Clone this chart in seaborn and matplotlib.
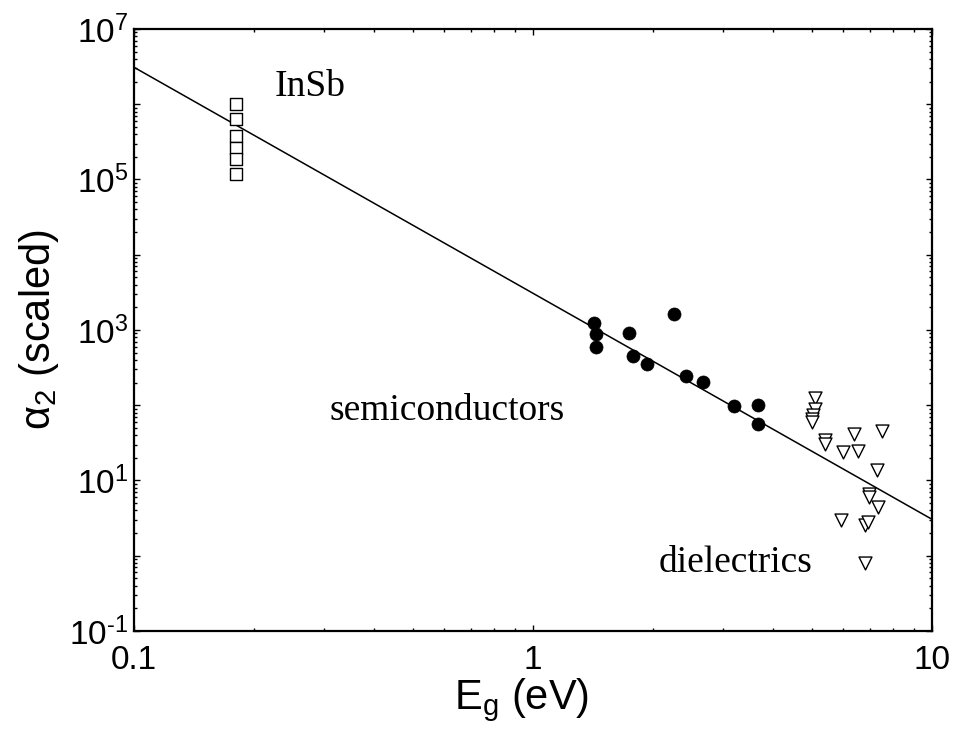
import numpy as np
import pandas as pd
import matplotlib
matplotlib.use("Agg")
import matplotlib.pyplot as plt
import matplotlib.ticker as mticker
import seaborn as sns

# ---- data ----
insb_eg = [0.18, 0.18, 0.18, 0.18, 0.18, 0.18]
insb_a2 = [1.0e6, 6.3e5, 3.8e5, 2.6e5, 1.85e5, 1.2e5]

semi_eg = [1.42, 1.44, 1.44, 1.74, 1.78, 1.93, 2.26, 2.42, 2.67, 3.19, 3.66, 3.66]
semi_a2 = [1250, 885, 588, 903, 454, 352, 1620, 244, 203, 97, 100, 57]

diel_eg = [5.09, 5.09, 5.02, 5.0, 5.0, 5.39, 5.39, 5.97, 6.39, 6.51, 7.48, 7.30,
           6.95, 6.95, 7.33, 5.90, 6.79, 6.93, 6.79]
diel_a2 = [123, 90, 73.6, 66.5, 60, 34, 30.8, 23.8, 41.9, 25, 46, 13.6,
           6.6, 6.1, 4.4, 3.0, 2.6, 2.8, 0.81]

fit_eg = [0.1, 10.0]
fit_a2 = [3.1e6, 3.05]

x_ticks = [0.1, 1, 10]
x_ticklabels = ["0.1", "1", "10"]
y_ticks = [1e-1, 1e0, 1e1, 1e2, 1e3, 1e4, 1e5, 1e6, 1e7]
y_ticklabels = [r"$10^{\text{-}1}$", "", r"$10^{1}$", "", r"$10^{3}$", "", r"$10^{5}$", "", r"$10^{7}$"]

# ---- style ----
sns.set_style("ticks")
plt.rcParams["font.family"] = ["Liberation Sans", "DejaVu Sans"]
plt.rcParams["mathtext.fontset"] = "custom"
plt.rcParams["mathtext.rm"] = "Liberation Sans"
plt.rcParams["mathtext.it"] = "Liberation Sans"
plt.rcParams["mathtext.default"] = "rm"
for k in ["text.color", "axes.labelcolor", "xtick.color", "ytick.color", "axes.edgecolor"]:
    plt.rcParams[k] = "black"

fig = plt.figure(figsize=(9.55, 7.32), dpi=100)
ax = fig.add_axes([0.1403, 0.138, 0.8356, 0.8224])

df_fit = pd.DataFrame({"Eg": fit_eg, "a2": fit_a2})
df_insb = pd.DataFrame({"Eg": insb_eg, "a2": insb_a2})
df_semi = pd.DataFrame({"Eg": semi_eg, "a2": semi_a2})
df_diel = pd.DataFrame({"Eg": diel_eg, "a2": diel_a2})

sns.lineplot(data=df_fit, x="Eg", y="a2", ax=ax, color="black", linewidth=1.1)
sns.scatterplot(data=df_insb, x="Eg", y="a2", ax=ax, marker="s", s=8.6**2,
                facecolor="white", edgecolor="black", linewidth=1.0, zorder=3)
sns.scatterplot(data=df_semi, x="Eg", y="a2", ax=ax, marker="o", s=9.4**2,
                color="black", edgecolor="black", linewidth=0.5, zorder=3)
sns.scatterplot(data=df_diel, x="Eg", y="a2", ax=ax, marker="v", s=9.3**2,
                facecolor="white", edgecolor="black", linewidth=1.0, zorder=3)

ax.set_xscale("log")
ax.set_yscale("log")
ax.set_xlim(0.1, 10)
ax.set_ylim(1e-1, 1e7)

ax.set_xticks(x_ticks)
ax.set_xticklabels(x_ticklabels)
ax.set_yticks(y_ticks)
ax.set_yticklabels(y_ticklabels)
ax.xaxis.set_minor_locator(mticker.LogLocator(base=10, subs=np.arange(2, 10)))
ax.yaxis.set_minor_locator(mticker.LogLocator(base=10, subs=np.arange(2, 10), numticks=20))
ax.xaxis.set_minor_formatter(mticker.NullFormatter())
ax.yaxis.set_minor_formatter(mticker.NullFormatter())

ax.tick_params(which="both", direction="in", top=True, right=True, width=1.0, color="black")
ax.tick_params(which="major", length=4, labelsize=24)
ax.tick_params(axis="x", which="major", pad=10)
ax.tick_params(axis="y", which="major", pad=4)
ax.tick_params(which="minor", length=2.2)
for sp in ax.spines.values():
    sp.set_linewidth(1.6)
    sp.set_color("black")

ax.set_xlabel("E$_{g}$ (eV)", fontsize=30, labelpad=2)
ax.set_ylabel("α$_{2}$ (scaled)", fontsize=30, labelpad=6)
ax.xaxis.set_label_coords(0.486, -0.075)

serif = ["Liberation Serif", "DejaVu Serif"]
ax.text(0.1767, 0.889, "InSb", transform=ax.transAxes, fontsize=27,
        family=serif, ha="left", va="baseline")
ax.text(0.2456, 0.3505, "semiconductors", transform=ax.transAxes, fontsize=27,
        family=serif, ha="left", va="baseline")
ax.text(0.658, 0.098, "dielectrics", transform=ax.transAxes, fontsize=27,
        family=serif, ha="left", va="baseline")

fig.savefig("out.png", dpi=100)
